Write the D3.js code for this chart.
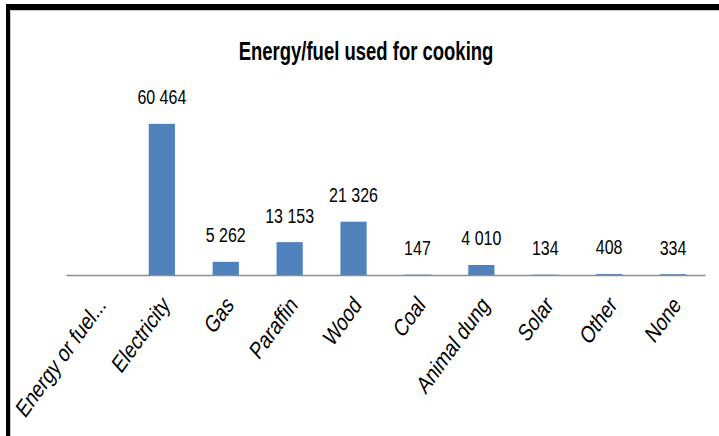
<!DOCTYPE html>
<html>
<head>
<meta charset="utf-8">
<script src="https://cdn.jsdelivr.net/npm/d3@7"></script>
<style>
  html, body { margin: 0; padding: 0; background: #fff; }
  svg { display: block; }
  text { font-family: "Liberation Sans", Arial, sans-serif; fill: #000; }
</style>
</head>
<body>
<svg id="chart" width="719" height="436"></svg>
<script>
const title = "Energy/fuel used for cooking";
const categories = ["Energy or fuel...", "Electricity", "Gas", "Paraffin", "Wood", "Coal", "Animal dung", "Solar", "Other", "None"];
const values = [null, 60464, 5262, 13153, 21326, 147, 4010, 134, 408, 334];
const valueLabels = ["", "60 464", "5 262", "13 153", "21 326", "147", "4 010", "134", "408", "334"];

const W = 719, H = 436;
const svg = d3.select("#chart");
svg.append("rect").attr("width", W).attr("height", H).attr("fill", "#fff");

// frame (thick black top + left edges)
svg.append("rect").attr("x", 6).attr("y", 4).attr("width", W - 6).attr("height", 6).attr("fill", "#000");
svg.append("rect").attr("x", 6).attr("y", 4).attr("width", 4).attr("height", H - 4).attr("fill", "#000");
svg.append("line").attr("x1", 10.5).attr("x2", W).attr("y1", 10.5).attr("y2", 10.5).attr("stroke", "#c8c8c8").attr("stroke-width", 1);
svg.append("line").attr("x1", 10.5).attr("x2", 10.5).attr("y1", 10.5).attr("y2", H).attr("stroke", "#c8c8c8").attr("stroke-width", 1);

const x = d3.scaleBand().domain(categories).range([66, 705]).paddingInner(0.59).paddingOuter(0.295);
const y = d3.scaleLinear().domain([0, 70000]).range([275, 100]);

// title
svg.append("text").attr("transform", "translate(366,60) scale(0.74,1.05)").attr("text-anchor", "middle")
  .attr("font-size", 25).attr("font-weight", "bold").text(title);

// bars
const data = categories.map((c, i) => ({ c, v: values[i], lab: valueLabels[i] }));
svg.append("g").selectAll("rect").data(data.filter(d => d.v != null)).join("rect")
  .attr("x", d => x(d.c)).attr("width", x.bandwidth())
  .attr("y", d => y(d.v)).attr("height", d => y(0) - y(d.v))
  .attr("fill", "#4F81BD");

// value labels
svg.append("g").selectAll("text").data(data.filter(d => d.v != null)).join("text")
  .attr("transform", d => `translate(${x(d.c) + x.bandwidth() / 2},${y(d.v) - 19.5}) scale(0.8,1.05)`)
  .attr("text-anchor", "middle").attr("font-size", 20)
  .text(d => d.lab);

// axis
const xAxis = d3.axisBottom(x).tickSize(0).tickPadding(0);
const gx = svg.append("g").attr("transform", `translate(0,${y(0)})`).call(xAxis);
gx.attr("font-family", null).attr("font-size", null);
gx.select(".domain").attr("stroke", "#8c8c8c").attr("stroke-width", 1.5);
gx.selectAll(".tick text")
  .style("font-size", "22px")
  .attr("text-anchor", "end").attr("dy", null).attr("y", null)
  .attr("transform", "translate(9,31) rotate(-54) scale(0.9,1) skewX(-13)");
</script>
</body>
</html>
